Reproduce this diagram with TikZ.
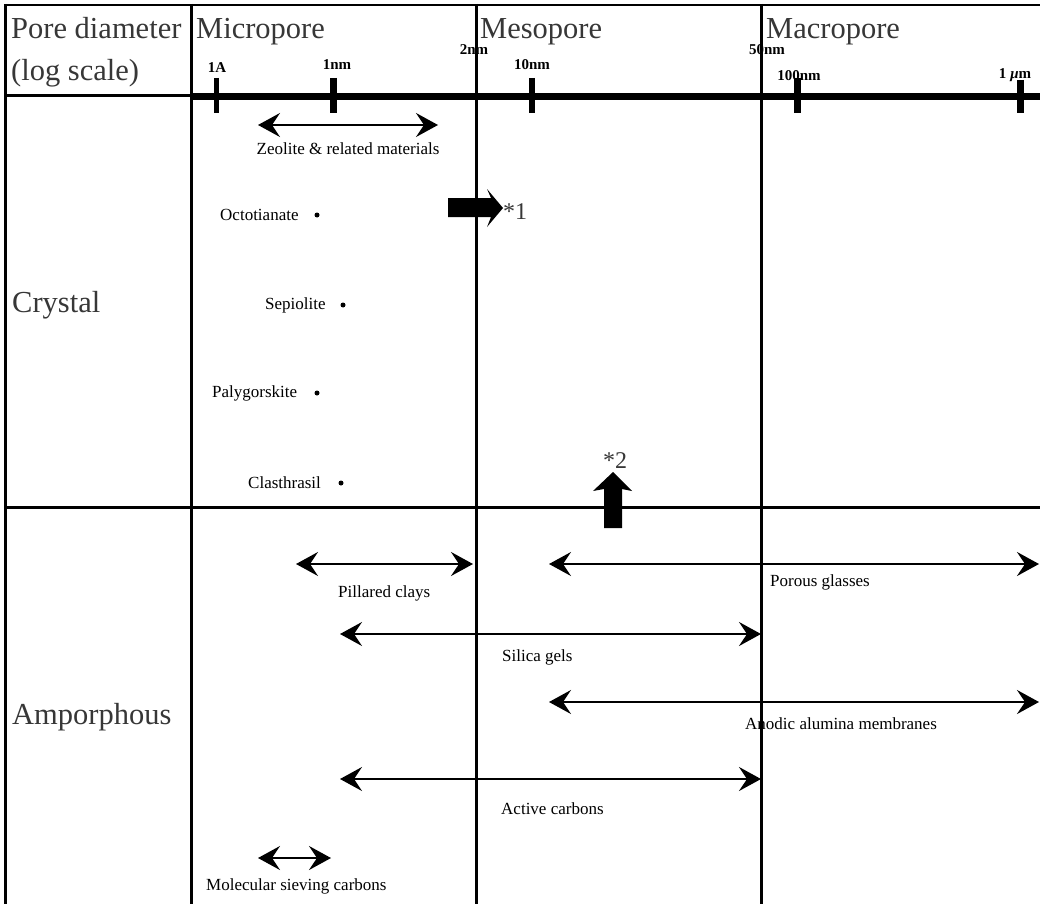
\documentclass[tikz,border=0pt]{standalone}
\usepackage{fontspec}
\setmainfont{Liberation Serif}
\usetikzlibrary{arrows.meta}
\definecolor{txtgray}{RGB}{55,55,55}
\tikzset{
  bigtxt/.style={font=\fontsize{30.5}{33}\selectfont, text=txtgray, inner sep=0pt, anchor=base west},
  smalltxt/.style={font=\fontsize{17}{19}\selectfont, inner sep=0pt, anchor=west},
  ticklbl/.style={font=\bfseries\fontsize{15}{17}\selectfont, inner sep=0pt},
  gridline/.style={line width=3pt},
  tickmark/.style={line width=6pt},
  rangearrow/.style={line width=2pt, {Stealth[length=22pt,width=24pt,inset=8pt]}-{Stealth[length=22pt,width=24pt,inset=8pt]}},
  dotmark/.style={circle, fill=black, inner sep=0pt, minimum size=5pt},
  starlbl/.style={font=\fontsize{24}{26}\selectfont, text=txtgray, inner sep=0pt},
  blockarrow/.style={fill=black, draw=none},
}
\begin{document}
\begin{tikzpicture}[x=1pt,y=-1pt]
\useasboundingbox (0,0) rectangle (1040,904);
\fill[white] (0,0) rectangle (1040,904);

% header texts
\node[bigtxt] (pd) at (11,39) {Pore diameter};
\node[bigtxt] (ls) at (11,81) {(log scale)};
\node[bigtxt] (mic) at (196,39) {Micropore};
\node[bigtxt] (mes) at (480,39) {Mesopore};
\node[bigtxt] (mac) at (766,39) {Macropore};
\node[bigtxt] (cry) at (12,312) {Crystal};
\node[bigtxt] (amo) at (12,724) {Amporphous};

% tick labels
\node[ticklbl] (t1a) at (217,68) {1A};
\node[ticklbl] (t1nm) at (337,65) {1nm};
\node[ticklbl] (t2nm) at (474,50) {2nm};
\node[ticklbl] (t10nm) at (532,65) {10nm};
\node[ticklbl] (t50nm) at (767,50) {50nm};
\node[ticklbl] (t100nm) at (799,76) {100nm};
\node[ticklbl] (t1um) at (1015,75) {1 \textit{µ}m};

% crystal labels
\node[smalltxt, anchor=center] (zeo) at (348,149) {Zeolite \& related materials};
\node[smalltxt] (oct) at (220,215) {Octotianate};
\node[dotmark] (octd) at (317,215) {};
\node[smalltxt] (sep) at (265,305) {Sepiolite};
\node[dotmark] (sepd) at (343,305) {};
\node[smalltxt] (pal) at (212,393) {Palygorskite};
\node[dotmark] (pald) at (317,393) {};
\node[smalltxt] (cla) at (248,483) {Clasthrasil};
\node[dotmark] (clad) at (341,483) {};

% amorphous labels
\node[smalltxt] (pil) at (338,593) {Pillared clays};
\node[smalltxt] (por) at (770,582) {Porous glasses};
\node[smalltxt] (sil) at (502,657) {Silica gels};
\node[smalltxt] (ano) at (745,724) {Anodic alumina membranes};
\node[smalltxt] (act) at (501,809) {Active carbons};
\node[smalltxt] (mol) at (206,886) {Molecular sieving carbons};

% star labels
\node[starlbl, anchor=west] (s1) at (503,212) {*1};
\node[starlbl] (s2) at (615,461) {*2};

% grid
\coordinate (tl) at (5,5);
\coordinate (tr) at (1040,5);
\draw[line width=2.5pt] (tl) -- (tr);
\draw[gridline] (5,4) -- (5,904);
\draw[gridline] (191,4) -- (191,904);
\draw[gridline] (476,4) -- (476,904);
\draw[gridline] (761,4) -- (761,904);
\draw[gridline] (5,96) -- (191,96);
\draw[line width=7pt] (191,97) -- (1040,97);
\draw[gridline] (5,507) -- (1040,507);

% ticks
\draw[line width=5pt] (216,78) -- (216,113);
\draw[tickmark,line width=7pt] (333,78) -- (333,113);
\draw[tickmark] (532,78) -- (532,113);
\draw[tickmark,line width=7pt] (797,78) -- (797,113);
\draw[tickmark,line width=7pt] (1020,80) -- (1020,113);

% range arrows
\coordinate (zl) at (258,125); \coordinate (zr) at (438,125);
\draw[rangearrow] (zl) -- (zr);
\coordinate (pl) at (296,564); \coordinate (pr) at (473,564);
\draw[rangearrow] (pl) -- (pr);
\coordinate (gl) at (549,564); \coordinate (gr) at (1039,564);
\draw[rangearrow] (gl) -- (gr);
\coordinate (sl) at (340,634); \coordinate (sr) at (761,634);
\draw[rangearrow] (sl) -- (sr);
\coordinate (al) at (549,702); \coordinate (ar) at (1039,702);
\draw[rangearrow] (al) -- (ar);
\coordinate (cl) at (340,779); \coordinate (cr) at (761,779);
\draw[rangearrow] (cl) -- (cr);
\coordinate (ml) at (258,858); \coordinate (mr) at (331,858);
\draw[rangearrow] (ml) -- (mr);

% block arrows
\fill[blockarrow] (448,198) -- (491,198) -- (487,189) -- (503,208) -- (487,227) -- (491,217) -- (448,217) -- cycle;
\fill[blockarrow] (604,528) -- (604,489) -- (593,491) -- (613,472) -- (632,491) -- (622,489) -- (622,528) -- cycle;
\end{tikzpicture}
\end{document}
